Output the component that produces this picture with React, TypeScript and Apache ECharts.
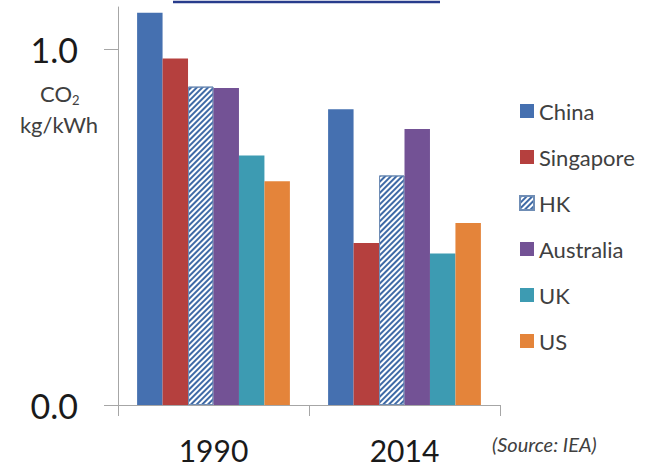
import React, { useEffect, useRef } from "react";
import * as echarts from "echarts";

const years = ["1990", "2014"];
const countries = ["China", "Singapore", "HK", "Australia", "UK", "US"];
const china = [1.104, 0.832];
const singapore = [0.975, 0.456];
const hk = [0.896, 0.646];
const australia = [0.892, 0.777];
const uk = [0.702, 0.426];
const us = [0.63, 0.512];
const yTicks = [0, 1];

const colors = ["#4570B0", "#B5403E", "#FFFFFF", "#735295", "#3D9BB2", "#E4843A"];

export default function App() {
  const ref = useRef<HTMLDivElement>(null);
  useEffect(() => {
    document.body.style.margin = "0";
    const chart = echarts.init(ref.current!, null, { renderer: "svg" });
    const values = [china, singapore, hk, australia, uk, us];
    const series = countries.map((name, i) => {
      const s: any = {
        name,
        type: "bar",
        data: values[i],
        barGap: "0%",
        barCategoryGap: "20%",
        itemStyle: { color: colors[i] },
      };
      if (name === "HK") {
        s.itemStyle = {
          color: "#FFFFFF",
          borderColor: "#6F8DB5",
          borderWidth: 1,
          decal: {
            symbol: "rect",
            symbolSize: 1,
            dashArrayX: [1, 0],
            dashArrayY: [2, 2],
            rotation: -Math.PI / 4,
            color: "#3F6AA6",
          },
        };
      }
      return s;
    });
    chart.setOption({
      animation: false,
      textStyle: { fontFamily: "Lato" },
      grid: { left: 118, right: 158, top: 7, bottom: 63 },
      legend: {
        orient: "vertical",
        left: 514,
        top: 95,
        icon: "rect",
        itemWidth: 14,
        itemHeight: 14,
        itemGap: 24,
        data: countries,
        textStyle: { fontSize: 22, color: "#404040", lineHeight: 22, fontFamily: "Lato" },
      },
      xAxis: {
        type: "category",
        data: years,
        axisLine: { lineStyle: { color: "#A6A6A6", width: 1 } },
        axisTick: { show: true, length: 11, lineStyle: { color: "#A6A6A6" } },
        axisLabel: { fontSize: 30, color: "#1a1a1a", margin: 30, fontFamily: "Lato" },
      },
      yAxis: {
        type: "value",
        min: 0,
        max: 1.12,
        interval: 1,
        splitLine: { show: false },
        axisLine: { show: true, lineStyle: { color: "#A6A6A6", width: 1 } },
        axisTick: { show: true, length: 14, customValues: yTicks, lineStyle: { color: "#A6A6A6" } },
        axisLabel: {
          customValues: yTicks,
          fontSize: 34,
          color: "#1a1a1a",
          margin: 40,
          fontFamily: "Lato",
          formatter: (v: number) => (yTicks.indexOf(v) >= 0 ? v.toFixed(1) : ""),
        },
      },
      graphic: [
        {
          type: "line",
          shape: { x1: 173, y1: 2, x2: 440, y2: 2 },
          style: { stroke: "#283C8C", lineWidth: 2.5 },
        },
        {
          type: "text",
          x: 40,
          y: 82,
          style: {
            text: "{a|CO}{b|2}",
            fill: "#404040",
            fontFamily: "Lato",
            rich: {
              a: { fontSize: 22, lineHeight: 22, verticalAlign: "top", fill: "#404040", fontFamily: "Lato" },
              b: { fontSize: 13, lineHeight: 13, verticalAlign: "top", padding: [11, 0, 0, 0], fill: "#404040", fontFamily: "Lato" },
            },
          },
        },
        {
          type: "text",
          x: 59,
          y: 124,
          style: {
            text: "kg/kWh",
            fontSize: 22,
            fill: "#404040",
            fontFamily: "Lato",
            textAlign: "center",
            textVerticalAlign: "middle",
          },
        },
        {
          type: "text",
          x: 492,
          y: 444,
          style: {
            text: "(Source: IEA)",
            fontSize: 20,
            fontStyle: "italic",
            fill: "#404040",
            fontFamily: "Lato",
            textVerticalAlign: "middle",
          },
        },
      ],
      series,
    });
    return () => chart.dispose();
  }, []);
  return <div ref={ref} style={{ width: 658, height: 468 }} />;
}
